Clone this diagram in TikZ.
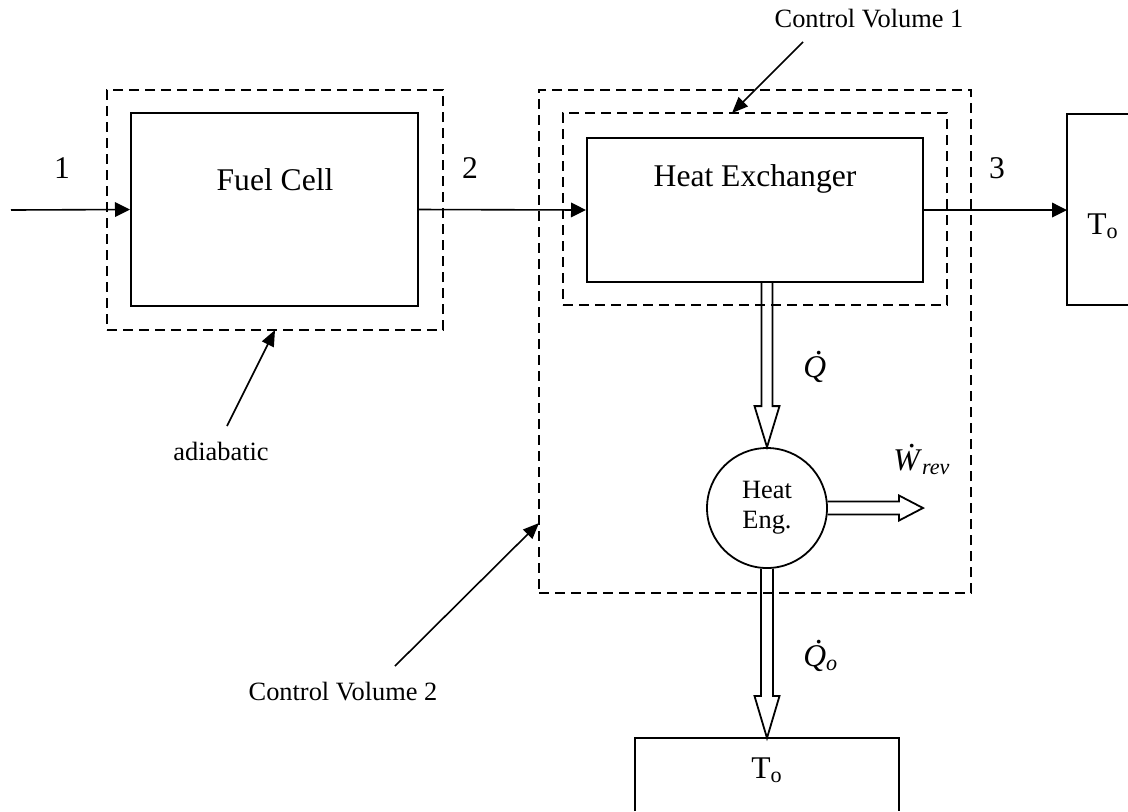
\documentclass[tikz,border=0pt]{standalone}
\usepackage{fontspec}
\setmainfont{Liberation Serif}
\usetikzlibrary{arrows.meta,calc}
\newcommand\dotacc[1]{\leavevmode\ooalign{#1\cr\hidewidth\kern0.25em\raisebox{0.72em}{.}\hidewidth\cr}}
\newcommand\bigfs{\fontsize{15.8pt}{18pt}\selectfont}
\newcommand\smallfs{\fontsize{13.2pt}{15pt}\selectfont}
\begin{document}
\begin{tikzpicture}[x=0.5pt,y=-0.5pt,
  box/.style={draw, line width=1pt, inner sep=0pt, rectangle},
  cvbox/.style={draw, line width=0.9pt, dash pattern=on 5pt off 3pt, inner sep=0pt, rectangle},
  flow/.style={line width=0.8pt, -{Triangle[length=7.5pt,width=7.3pt]}},
  callout/.style={line width=0.8pt, -{Triangle[length=8pt,width=6.5pt]}},
  hollow/.style={draw, line width=0.9pt, line join=miter},
  lbl/.style={font=\bigfs, inner sep=0pt, anchor=base},
  slbl/.style={font=\smallfs, inner sep=0pt, anchor=base}]
\useasboundingbox (0,0) rectangle (1128,811);

% control volumes
\node[cvbox, minimum width=168pt, minimum height=120pt] (fcdash) at (275,210) {};
\node[cvbox, minimum width=216pt, minimum height=251.5pt] (cv2) at (755,341.5) {};
\node[cvbox, minimum width=192pt, minimum height=96pt] (cv1) at (755,209) {};

% components
\node[box, minimum width=143.5pt, minimum height=96.5pt] (fc) at (274.5,209.5) {};
\node[box, minimum width=168pt, minimum height=72pt] (hx) at (755,210) {};
\node[lbl] (fctxt) at (275,190) {Fuel Cell};
\node[lbl] (hxtxt) at (755,186) {Heat Exchanger};
\node[draw, circle, line width=0.9pt, minimum size=60pt, inner sep=0pt,
      font=\smallfs, align=center] (he) at (767,508) {Heat\\Eng.};

% surroundings
\draw[line width=1pt] (1128,114) -- (1067,114) -- (1067,305) -- (1128,305);
\coordinate (rbox) at (1067,210);
\node[lbl] (rtxt) at (1103,234) {T\textsubscript{o}};
\draw[line width=1pt] (635,811) -- (635,738) -- (899,738) -- (899,811);
\coordinate (bbox) at (767,738);
\node[lbl] (btxt) at (767,778) {T\textsubscript{o}};

% flows
\coordinate (in1) at (11,210);
\draw[flow] (in1) -- (fc.west);
\draw[flow] (fc.east) -- (hx.west);
\draw[flow] (hx.east) -- (rbox);
\node[lbl] (l1) at (62,178) {1};
\node[lbl] (l2) at (470,178) {2};
\node[lbl] (l3) at (997,178) {3};

% heat / work arrows
\coordinate (qtop) at (hx.south -| he.north);
\draw[hollow] ($(qtop)+(-5.5,0)$) -- ($(he.north)+(-5.5,-41)$) -- ($(he.north)+(-12.5,-41)$)
  -- (he.north) -- ($(he.north)+(12.5,-41)$) -- ($(he.north)+(5.5,-41)$) -- ($(qtop)+(5.5,0)$);
\draw[hollow] ($(he.south)+(-6,0)$) -- ($(bbox)+(-6,-42)$) -- ($(bbox)+(-12.5,-42)$)
  -- (bbox) -- ($(bbox)+(12.5,-42)$) -- ($(bbox)+(6,-42)$) -- ($(he.south)+(6,0)$);
\coordinate (wtip) at (923,508);
\draw[hollow] ($(he.east)+(-0.4,-6.5)$) -- ($(wtip)+(-24,-6.5)$) -- ($(wtip)+(-24,-12.5)$)
  -- (wtip) -- ($(wtip)+(-24,12.5)$) -- ($(wtip)+(-24,6.5)$) -- ($(he.east)+(-0.4,6.5)$);
\node[font=\bigfs, inner sep=0pt, anchor=base west] (qlbl) at (803,377) {\dotacc{\textit{Q}}};
\node[font=\bigfs, inner sep=0pt, anchor=base west] (qolbl) at (803,666) {\dotacc{\textit{Q}}\textsubscript{\textit{o}}};
\node[font=\bigfs, inner sep=0pt, anchor=base west] (wlbl) at (893,470) {\dotacc{\textit{W}}\textsubscript{\textit{rev}}};

% callouts
\node[slbl] (cv1lbl) at (869,27) {Control Volume 1};
\coordinate (cv1tail) at (803,42);
\coordinate (cv1tip) at (732,113);
\draw[callout] (cv1tail) -- (cv1tip);
\node[slbl] (adlbl) at (221,460) {adiabatic};
\coordinate (adtail) at (227,426);
\coordinate (adtip) at (275,330);
\draw[callout] (adtail) -- (adtip);
\node[slbl] (cv2lbl) at (343,700) {Control Volume 2};
\coordinate (cv2tail) at (395,666);
\coordinate (cv2tip) at (539,523);
\draw[callout] (cv2tail) -- (cv2tip);
\end{tikzpicture}
\end{document}
